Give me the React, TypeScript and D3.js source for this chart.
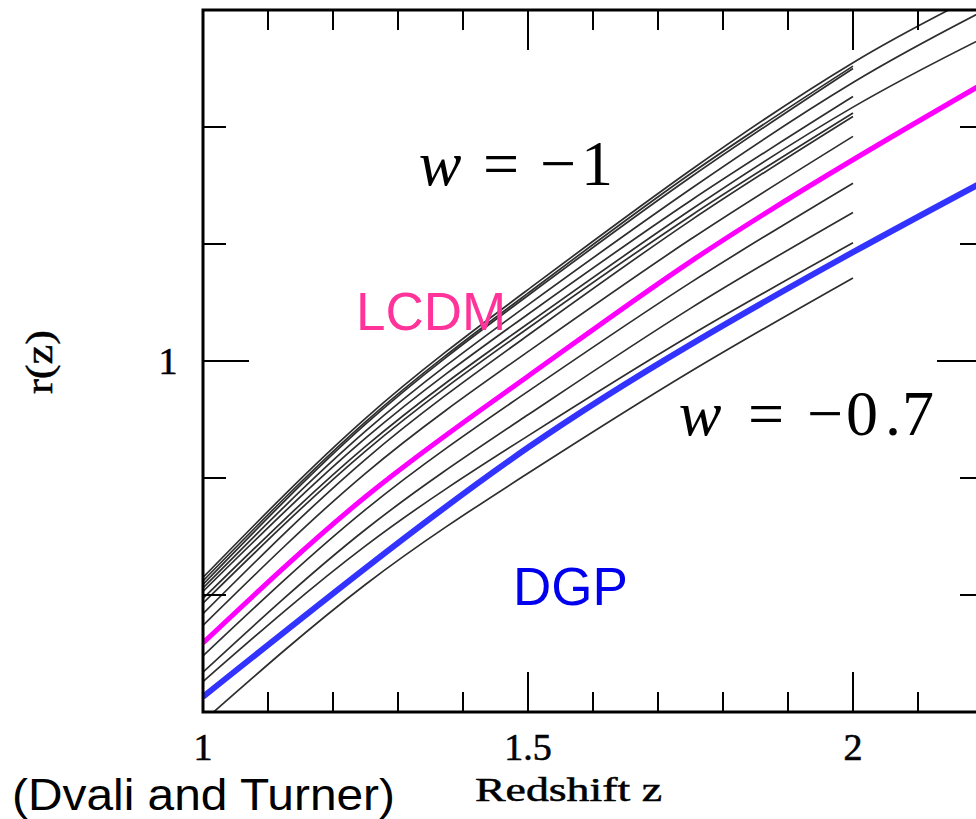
import React from "react";
import * as d3 from "d3";

// ---- data ----
const zShort = [1, 1.25, 1.5, 1.75, 2];
const zLong = [1, 1.25, 1.5, 1.75, 2, 2.2];

// thin w-model curves that stop at z = 2
const thinB = [0.812, 0.948, 1.058, 1.16, 1.252];
const thinC = [0.809, 0.946, 1.056, 1.157, 1.25];
const thinE = [0.803, 0.934, 1.04, 1.137, 1.226];
const thinG = [0.793, 0.923, 1.028, 1.124, 1.212];
const thinH = [0.784, 0.916, 1.022, 1.12, 1.209];
const thinI = [0.774, 0.904, 1.008, 1.104, 1.192];
const thinJ = [0.748, 0.873, 0.974, 1.067, 1.152];
const thinK = [0.734, 0.856, 0.954, 1.045, 1.127];
const thinL = [0.726, 0.842, 0.936, 1.022, 1.101];
const thinM = [0.692, 0.809, 0.904, 0.991, 1.071];
// thin curves that continue to z = 2.2
const thinA = [0.815, 0.951, 1.061, 1.163, 1.255, 1.315];
const thinD = [0.806, 0.94, 1.048, 1.147, 1.238, 1.299];
const thinF = [0.797, 0.927, 1.032, 1.129, 1.217, 1.276];
// highlighted models
const lcdm = [0.759, 0.884, 0.987, 1.085, 1.172, 1.237];
const dgp = [0.713, 0.823, 0.926, 1.014, 1.093, 1.153];

const shortCurves = [thinB, thinC, thinE, thinG, thinH, thinI, thinJ, thinK, thinL, thinM];
const longCurves = [thinA, thinD, thinF];

const xDomain = [1, 2.2];
const yDomain = [0.7, 1.3];
const xMajorTicks = [1, 1.5, 2];
const xMinorTicks = [1.1, 1.2, 1.3, 1.4, 1.6, 1.7, 1.8, 1.9, 2.1];
const yMajorTicks = [1];
const yMinorTicks = [0.8, 0.9, 1.1, 1.2];
const xTickLabels = ["1", "1.5", "2"];
const yTickLabels = ["1"];

export default function App() {
  const left = 203, right = 983, top = 10, bottom = 712;
  const x = d3.scaleLinear().domain(xDomain).range([left, right]);
  const y = d3.scaleLinear().domain(yDomain).range([bottom, top]);

  const mk = (zs: number[]) =>
    d3
      .line<number>()
      .x((_, i) => x(zs[i]))
      .y((v) => y(v))
      .curve(d3.curveNatural);

  const lineShort = mk(zShort);
  const lineLong = mk(zLong);

  const serif = "'Liberation Serif', 'Times New Roman', serif";
  const sans = "'Liberation Sans', Arial, sans-serif";

  return (
    <svg
      width={976}
      height={819}
      style={{ position: "absolute", left: 0, top: 0, background: "#fff" }}
    >
      <defs>
        <clipPath id="plotclip">
          <rect x={left} y={top} width={right - left} height={bottom - top} />
        </clipPath>
      </defs>
      <rect x={0} y={0} width={976} height={819} fill="#fff" />

      <g clipPath="url(#plotclip)" fill="none">
        {shortCurves.map((c, i) => (
          <path key={"s" + i} d={lineShort(c) || ""} stroke="#2e2e2e" strokeWidth={1.7} />
        ))}
        {longCurves.map((c, i) => (
          <path key={"l" + i} d={lineLong(c) || ""} stroke="#2e2e2e" strokeWidth={1.7} />
        ))}
        <path d={lineLong(lcdm) || ""} stroke="#ff00ff" strokeWidth={5} />
        <path d={lineLong(dgp) || ""} stroke="#3333ff" strokeWidth={6} />
      </g>

      {/* frame */}
      <rect x={left} y={top} width={right - left} height={bottom - top} fill="none" stroke="#000" strokeWidth={3} />

      {/* x ticks */}
      {xMinorTicks.map((t) => (
        <g key={"xm" + t} stroke="#000" strokeWidth={2}>
          <line x1={x(t)} x2={x(t)} y1={bottom} y2={bottom - 20} />
          <line x1={x(t)} x2={x(t)} y1={top} y2={top + 20} />
        </g>
      ))}
      {xMajorTicks.map((t) => (
        <g key={"xM" + t} stroke="#000" strokeWidth={2}>
          <line x1={x(t)} x2={x(t)} y1={bottom} y2={bottom - 40} />
          <line x1={x(t)} x2={x(t)} y1={top} y2={top + 40} />
        </g>
      ))}
      {/* y ticks */}
      {yMinorTicks.map((t) => (
        <g key={"ym" + t} stroke="#000" strokeWidth={2}>
          <line x1={left} x2={left + 23} y1={y(t)} y2={y(t)} />
          <line x1={right} x2={right - 23} y1={y(t)} y2={y(t)} />
        </g>
      ))}
      {yMajorTicks.map((t) => (
        <g key={"yM" + t} stroke="#000" strokeWidth={2}>
          <line x1={left} x2={left + 46} y1={y(t)} y2={y(t)} />
          <line x1={right} x2={right - 46} y1={y(t)} y2={y(t)} />
        </g>
      ))}

      {/* tick labels */}
      {xMajorTicks.map((t, i) => (
        <text key={"xl" + t} x={x(t)} y={760} textAnchor="middle" fontFamily={serif} fontSize={38} fill="#000" stroke="#000" strokeWidth={0.6}>
          {xTickLabels[i]}
        </text>
      ))}
      {yMajorTicks.map((t, i) => (
        <text key={"yl" + t} x={168} y={y(t) + 13} textAnchor="middle" fontFamily={serif} fontSize={38} fill="#000" stroke="#000" strokeWidth={0.6}>
          {yTickLabels[i]}
        </text>
      ))}

      {/* axis titles */}
      <text x={475} y={801} fontFamily={serif} fontSize={33} fill="#000" stroke="#000" strokeWidth={0.5} textLength={187} lengthAdjust="spacingAndGlyphs">
        Redshift  z
      </text>
      <text
        transform="translate(52,362) rotate(-90)"
        textAnchor="middle"
        fontFamily={serif}
        fontSize={38}
        fill="#000"
        stroke="#000"
        strokeWidth={0.5}
        textLength={64}
        lengthAdjust="spacingAndGlyphs"
      >
        r(z)
      </text>

      {/* source */}
      <text x={12} y={810} fontFamily={sans} fontSize={44} fill="#000" textLength={383} lengthAdjust="spacingAndGlyphs">
        (Dvali and Turner)
      </text>

      {/* annotations */}
      <text x={356} y={330} fontFamily={sans} fontSize={53} fill="#ff3399">LCDM</text>
      <text x={513} y={605} fontFamily={sans} fontSize={53} fill="#0000ee">DGP</text>

      <g fontFamily={serif} fontSize={64} fill="#000" textAnchor="middle">
        <text x={440} y={185} fontStyle="italic">w</text>
        <text x={501} y={185}>=</text>
        <text x={558} y={185}>−</text>
        <text x={597} y={185}>1</text>

        <text x={700} y={435} fontStyle="italic">w</text>
        <text x={766} y={435}>=</text>
        <text x={825} y={435}>−</text>
        <text x={862} y={435}>0</text>
        <text x={893} y={435}>.</text>
        <text x={918} y={435}>7</text>
      </g>
    </svg>
  );
}
